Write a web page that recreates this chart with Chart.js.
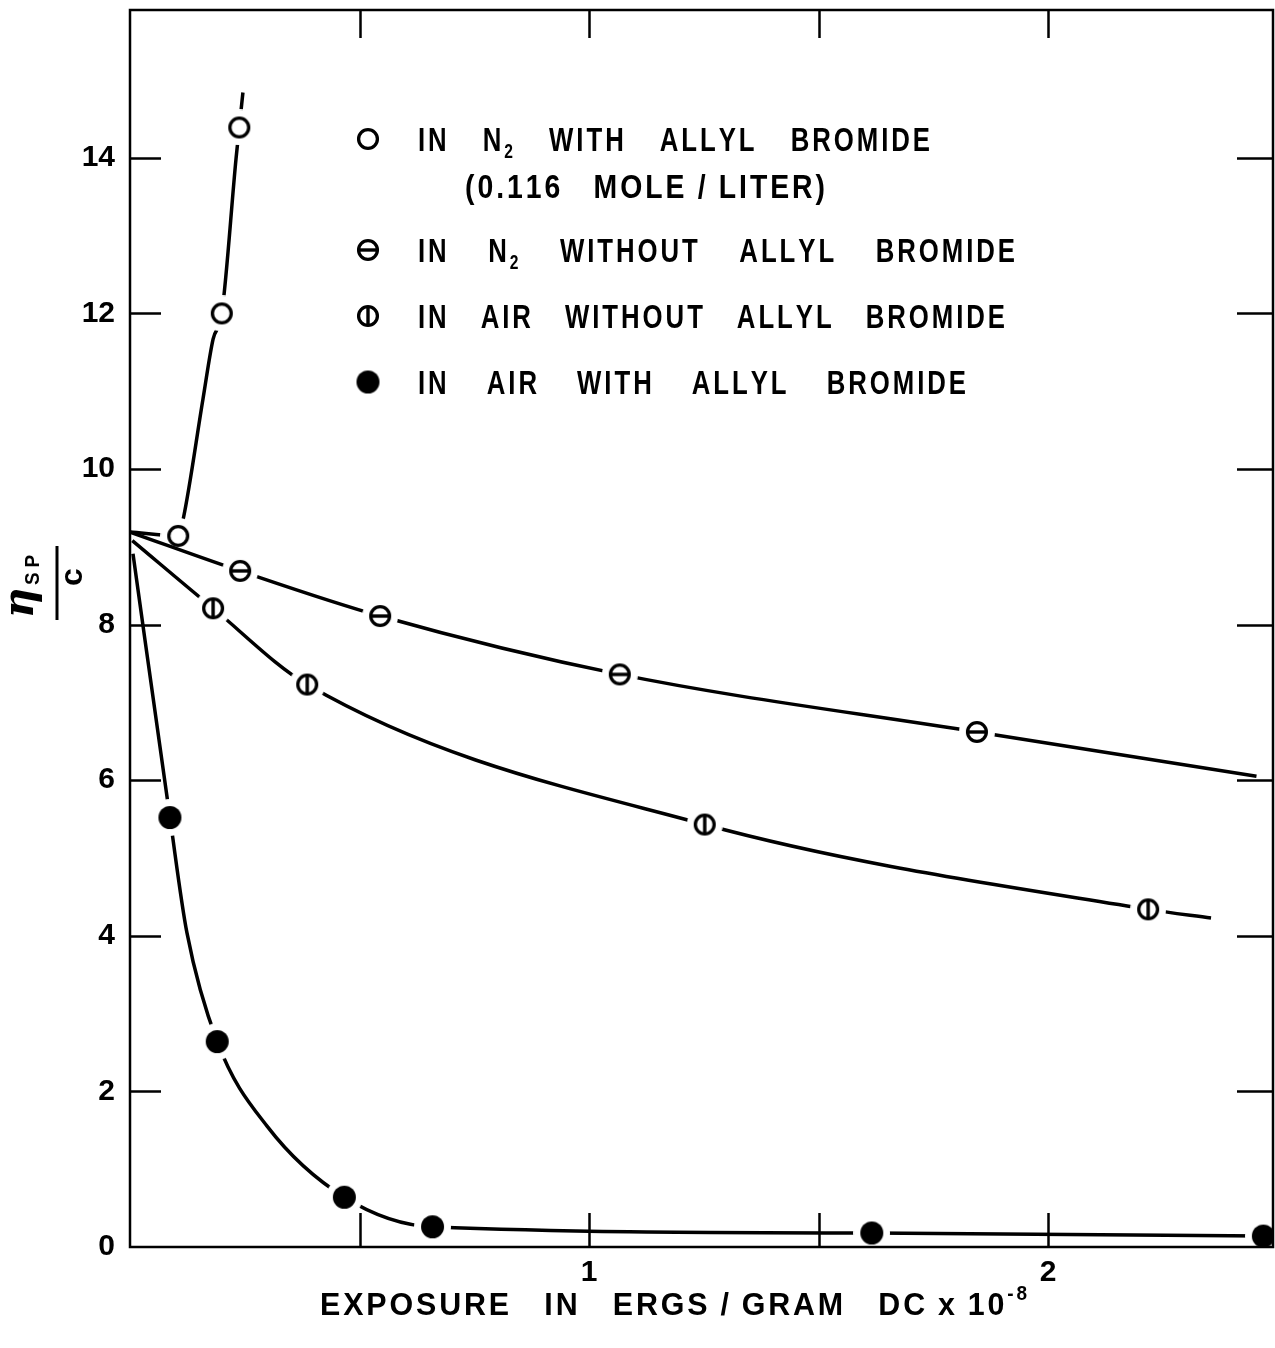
<!DOCTYPE html>
<html>
<head>
<meta charset="utf-8">
<script src="https://cdn.jsdelivr.net/npm/chart.js@4.4.1/dist/chart.umd.min.js"></script>
<style>
	html, body { margin: 0; padding: 0; background: #fff; overflow: hidden; }
	#wrap { width: 1275px; height: 1348px; position: relative; }
</style>
</head>
<body>
<div id="wrap"><canvas id="chart"></canvas></div>
<script>
// axis ranges and ticks
const xRange = [0, 2.49];
const yRange = [0, 15.9];
const xTickValues = [0.5, 1, 1.5, 2];
const xTickLabels = { 1: "1", 2: "2" };
const yTickValues = [2, 4, 6, 8, 10, 12, 14];

// measured points (exposure, eta_sp / c)
const n2WithX = [0.105, 0.2, 0.238];
const n2WithY = [9.14, 12.0, 14.39];
const n2WithoutX = [0.24, 0.545, 1.067, 1.845];
const n2WithoutY = [8.69, 8.11, 7.36, 6.62];
const airWithoutX = [0.181, 0.386, 1.252, 2.218];
const airWithoutY = [8.21, 7.23, 5.43, 4.34];
const airWithX = [0.087, 0.19, 0.467, 0.659, 1.616, 2.469];
const airWithY = [5.52, 2.64, 0.64, 0.26, 0.18, 0.14];

// hand drawn curves
const curveN2WithX = [0, 0.105, 0.116, 0.159, 0.181, 0.2, 0.231, 0.238, 0.246];
const curveN2WithY = [9.19, 9.14, 9.36, 10.9, 11.67, 12.0, 13.99, 14.39, 14.84];
const curveN2WithoutX = [0, 0.24, 0.545, 1.067, 1.845, 2.454];
const curveN2WithoutY = [9.19, 8.69, 8.11, 7.36, 6.62, 6.05];
const curveAirWithoutX = [0.005, 0.181, 0.386, 1.252, 2.218, 2.355];
const curveAirWithoutY = [9.08, 8.21, 7.23, 5.43, 4.34, 4.23];
const curveAirWithX = [0.0065, 0.087, 0.124, 0.19, 0.299, 0.467, 0.659, 1.616, 2.469];
const curveAirWithY = [8.91, 5.52, 4.04, 2.64, 1.55, 0.64, 0.26, 0.18, 0.14];

// legend text
const seriesLabels = [
	"IN N₂ WITH ALLYL BROMIDE",
	"IN N₂ WITHOUT ALLYL BROMIDE",
	"IN AIR WITHOUT ALLYL BROMIDE",
	"IN AIR WITH ALLYL BROMIDE",
];
const seriesNote = "(0.116 MOLE\u2009/\u2009LITER)";
const xTitle = "EXPOSURE IN ERGS\u2009/\u2009GRAM DC\u2009x\u200910⁻⁸";

const FONT = '"Liberation Sans", Arial, sans-serif';

const zip = (xs, ys) => xs.map((x, i) => ({ x: x, y: ys[i] }));

// marker glyphs; with halo the line stops short of the symbol like the ink drawing
const makeMarker = (kind, halo) => {
	const r = kind === "filled" ? 11.5 : 11;
	const R = halo ? r + 7 : r + 2;
	const c = document.createElement("canvas");
	c.width = c.height = 2 * R;
	const g = c.getContext("2d");
	g.translate(R, R);
	if (halo) {
		g.fillStyle = "#fff";
		g.beginPath();
		g.arc(0, 0, R, 0, 2 * Math.PI);
		g.fill();
	}
	g.strokeStyle = "#000";
	g.lineWidth = 3.3;
	g.beginPath();
	if (kind === "filled") {
		g.fillStyle = "#000";
		g.arc(0, 0, r, 0, 2 * Math.PI);
		g.fill();
		return c;
	}
	g.fillStyle = "#fff";
	g.arc(0, 0, r - 1.6, 0, 2 * Math.PI);
	g.fill();
	g.stroke();
	g.lineWidth = 3.4;
	g.beginPath();
	if (kind === "theta") {
		g.moveTo(-r + 1.5, 0);
		g.lineTo(r - 1.5, 0);
	}
	if (kind === "phi") {
		g.moveTo(0, -r + 1.5);
		g.lineTo(0, r - 1.5);
	}
	g.stroke();
	return c;
};

const kinds = ["open", "theta", "phi", "filled"];
const plotMarkers = kinds.map((k) => makeMarker(k, true));
const legendMarkers = kinds.map((k) => makeMarker(k, false));

const subMap = { "₂": "2" };
const supMap = { "⁻": "-", "⁸": "8" };

// narrow hand lettering: letters keep a fixed tracking, word spaces take up the rest
const drawLettering = (ctx, text, left, right, midY, size, sx = 0.78) => {
	const font = `bold ${size}px ${FONT}`;
	const small = `bold ${Math.round(size * 0.62)}px ${FONT}`;
	const track = size * 0.09;
	const thin = size * 0.22;
	const chars = [...text];
	const widthOf = (ch) => {
		if (ch === "\u2009") return thin;
		const s = subMap[ch] || supMap[ch];
		ctx.font = s ? small : font;
		return ctx.measureText(s || ch).width * sx;
	};
	const isLetter = (ch) => ch !== " " && ch !== undefined;
	let natural = 0;
	let pairs = 0;
	let nSpaces = 0;
	chars.forEach((ch, i) => {
		if (ch === " ") nSpaces++;
		else natural += widthOf(ch);
		if (isLetter(ch) && isLetter(chars[i + 1])) pairs++;
	});
	let gap = track;
	let spaceW = 0;
	if (nSpaces > 0) spaceW = (right - left - natural - track * pairs) / nSpaces;
	else gap = (right - left - natural) / Math.max(1, pairs);
	const base = midY + size * 0.36;
	let x = left;
	ctx.save();
	ctx.fillStyle = "#000";
	ctx.textBaseline = "alphabetic";
	ctx.textAlign = "left";
	chars.forEach((ch, i) => {
		if (ch === " ") {
			x += spaceW;
			return;
		}
		const w = widthOf(ch);
		if (ch !== "\u2009") {
			let dy = 0;
			if (subMap[ch]) dy = size * 0.22;
			if (supMap[ch]) dy = -size * 0.45;
			ctx.save();
			ctx.translate(x, base + dy);
			ctx.scale(sx, 1);
			ctx.fillText(subMap[ch] || supMap[ch] || ch, 0, 0);
			ctx.restore();
		}
		x += w;
		if (isLetter(chars[i + 1])) x += gap;
	});
	ctx.restore();
};

const decorPlugin = {
	id: "decor",
	afterDraw(chart) {
		const { ctx, chartArea: a, scales } = chart;
		const xs = scales.x;
		const ys = scales.y;

		ctx.save();
		ctx.strokeStyle = "#000";
		ctx.lineCap = "butt";

		// frame
		ctx.lineWidth = 2.5;
		ctx.strokeRect(a.left, a.top, a.right - a.left, a.bottom - a.top);

		// inward ticks on all four sides
		ctx.lineWidth = 2.5;
		ctx.beginPath();
		yTickValues.forEach((v) => {
			const py = Math.round(ys.getPixelForValue(v)) + 0.5;
			ctx.moveTo(a.left, py);
			ctx.lineTo(a.left + 31, py);
			ctx.moveTo(a.right, py);
			ctx.lineTo(a.right - 36, py);
		});
		xTickValues.forEach((v) => {
			const px = Math.round(xs.getPixelForValue(v)) + 0.5;
			ctx.moveTo(px, a.bottom);
			ctx.lineTo(px, a.bottom - 34);
			ctx.moveTo(px, a.top);
			ctx.lineTo(px, a.top + 28);
		});
		ctx.stroke();

		// legend
		const rows = [139, 250, 316, 382];
		const rights = [930, 1015, 1005, 966];
		rows.forEach((y, i) => {
			const m = legendMarkers[i];
			ctx.drawImage(m, 368 - m.width / 2, y - m.height / 2);
			drawLettering(ctx, seriesLabels[i], 418, rights[i], y, 33);
		});
		drawLettering(ctx, seriesNote, 465, 825, 186, 33, 0.86);

		// x axis title
		drawLettering(ctx, xTitle, 320, 1027, 1303, 32, 0.95);

		// y axis title: eta_sp over c, turned on its side
		ctx.translate(45, 583);
		ctx.rotate(-Math.PI / 2);
		ctx.fillStyle = "#000";
		ctx.textAlign = "center";
		ctx.textBaseline = "alphabetic";
		ctx.font = `bold italic 42px "DejaVu Serif", serif`;
		ctx.fillText("η", -20, -12);
		drawLettering(ctx, "SP", -2, 28, -14, 21, 0.9);
		ctx.lineWidth = 3;
		ctx.beginPath();
		ctx.moveTo(-37, 12);
		ctx.lineTo(37, 12);
		ctx.stroke();
		ctx.textAlign = "center";
		ctx.font = `bold 32px ${FONT}`;
		ctx.fillText("c", 6, 37);
		ctx.restore();
	},
};

const curveStyle = {
	type: "scatter",
	showLine: true,
	borderColor: "#000",
	borderWidth: 3.5,
	pointRadius: 0,
	cubicInterpolationMode: "monotone",
	fill: false,
};

const markerStyle = (i) => ({
	type: "scatter",
	showLine: false,
	pointStyle: plotMarkers[i],
	pointRadius: 12,
});

new Chart(document.getElementById("chart"), {
	type: "scatter",
	data: {
		datasets: [
			{ ...curveStyle, label: "c1", data: zip(curveN2WithX, curveN2WithY), order: 8 },
			{ ...markerStyle(0), label: seriesLabels[0], data: zip(n2WithX, n2WithY), order: 7 },
			{ ...curveStyle, label: "c2", data: zip(curveN2WithoutX, curveN2WithoutY), order: 6 },
			{ ...markerStyle(1), label: seriesLabels[1], data: zip(n2WithoutX, n2WithoutY), order: 5 },
			{ ...curveStyle, label: "c3", data: zip(curveAirWithoutX, curveAirWithoutY), order: 4 },
			{ ...markerStyle(2), label: seriesLabels[2], data: zip(airWithoutX, airWithoutY), order: 3 },
			{ ...curveStyle, label: "c4", data: zip(curveAirWithX, curveAirWithY), order: 2 },
			{ ...markerStyle(3), label: seriesLabels[3], data: zip(airWithX, airWithY), order: 1 },
		],
	},
	options: {
		responsive: true,
		maintainAspectRatio: false,
		animation: false,
		events: [],
		devicePixelRatio: 1,
		layout: { autoPadding: false, padding: { top: 10, right: 2, left: 0, bottom: 0 } },
		plugins: {
			legend: { display: false },
			tooltip: { enabled: false },
			title: { display: false },
		},
		scales: {
			x: {
				type: "linear",
				min: xRange[0],
				max: xRange[1],
				afterFit: (s) => {
					s.height = 101;
					s.paddingLeft = 0;
					s.paddingRight = 0;
				},
				grid: { display: false, drawTicks: false },
				border: { display: false },
				ticks: {
					stepSize: 0.5,
					includeBounds: false,
					autoSkip: false,
					maxRotation: 0,
					padding: 8,
					color: "#000",
					font: { family: "Liberation Sans", size: 30, weight: "bold" },
					callback: (v) => xTickLabels[v] || "",
				},
			},
			y: {
				type: "linear",
				min: yRange[0],
				max: yRange[1],
				afterFit: (s) => {
					s.width = 130;
					s.paddingTop = 0;
					s.paddingBottom = 0;
				},
				grid: { display: false, drawTicks: false },
				border: { display: false },
				ticks: {
					stepSize: 2,
					includeBounds: false,
					padding: 15,
					color: "#000",
					font: { family: "Liberation Sans", size: 30, weight: "bold" },
				},
			},
		},
	},
	plugins: [decorPlugin],
});
</script>
</body>
</html>
